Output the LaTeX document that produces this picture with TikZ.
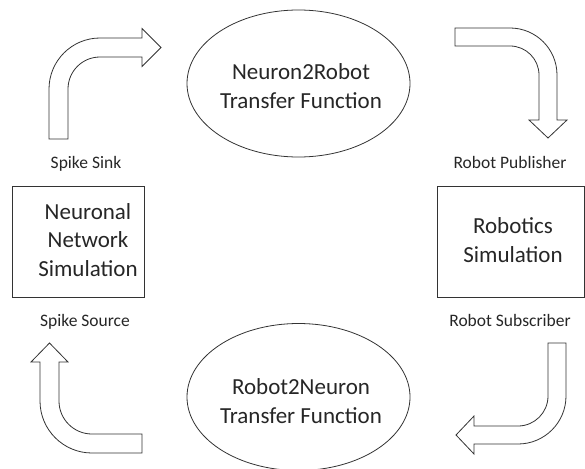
\documentclass[tikz,border=0pt]{standalone}
\usepackage{fontspec}
\setmainfont{Carlito}
\usetikzlibrary{shapes.geometric,positioning}

\begin{document}
\begin{tikzpicture}[
    x=1pt,
    y=-1pt,
    line width=0.8pt
]


\tikzstyle{sim}=[
    draw=black!80,
    rectangle,
    minimum height=111pt,
    inner sep=0pt
]
\tikzstyle{tf}=[
    draw=black!80,
    ellipse,
    minimum width=223pt,
    minimum height=147pt,
    inner sep=0pt
]
\tikzstyle{bigtext}=[
    align=center,
    inner sep=0pt,
    text=black!85,
    font=\fontsize{23}{28.5}\selectfont
]
\tikzstyle{port}=[
    anchor=base,
    inner sep=0pt,
    text=black!85,
    font=\fontsize{17.5}{21}\selectfont
]
\tikzstyle{bentarrow}=[
    draw=black!80,
    fill=white,
    line join=miter
]

\useasboundingbox (0,0) rectangle (585,468);


\node[tf] (n2r) at (298.5,83.5) {};
\node[bigtext] (n2rText) at (301,86) {Neuron2Robot\\Transfer Function};
\node[tf] (r2n) at (298.5,397) {};
\node[bigtext] (r2nText) at (301,401) {Robot2Neuron\\Transfer Function};


\node[sim, minimum width=132pt] (nns) at (78,241.5) {};
\node[bigtext] (nnsText) at (88,240) {Neuronal\\Network\\Simulation};
\node[sim, minimum width=147pt] (rs) at (510.5,241.5) {};
\node[bigtext] (rsText) at (513,240) {Robotics\\Simulation};


\node[port] (sink) at (86,168) {Spike Sink};
\node[port] (pub) at (510,168) {Robot Publisher};
\node[port] (source) at (85,326) {Spike Source};
\node[port] (sub) at (510,326) {Robot Subscriber};


% block arrows
\draw[bentarrow] (49,139) -- (49,89) arc[start angle=180, end angle=90, radius=51pt]
    -- (142,38) -- (142,28.5) -- (161,47.5) -- (142,66.5) -- (142,57)
    -- (100,57) arc[start angle=90, end angle=180, radius=32pt] -- (68,139) -- cycle;
\draw[bentarrow] (455,28) -- (510,28) arc[start angle=90, end angle=0, radius=47pt]
    -- (557,120) -- (567,120) -- (548,138) -- (529,120) -- (539,120)
    -- (539,75) arc[start angle=0, end angle=90, radius=29pt] -- (455,46) -- cycle;
\draw[bentarrow] (566,343) -- (566,396) arc[start angle=0, end angle=-90, radius=48pt]
    -- (474,444) -- (474,454) -- (456,435) -- (474,416) -- (474,426)
    -- (518,426) arc[start angle=-90, end angle=0, radius=30pt] -- (548,343) -- cycle;
\draw[bentarrow] (142,453) -- (92,453) arc[start angle=270, end angle=180, radius=52pt]
    -- (40,362) -- (31,362) -- (49.5,343) -- (68,362) -- (59,362)
    -- (59,401) arc[start angle=180, end angle=270, radius=33pt] -- (142,434) -- cycle;

\end{tikzpicture}
\end{document}
